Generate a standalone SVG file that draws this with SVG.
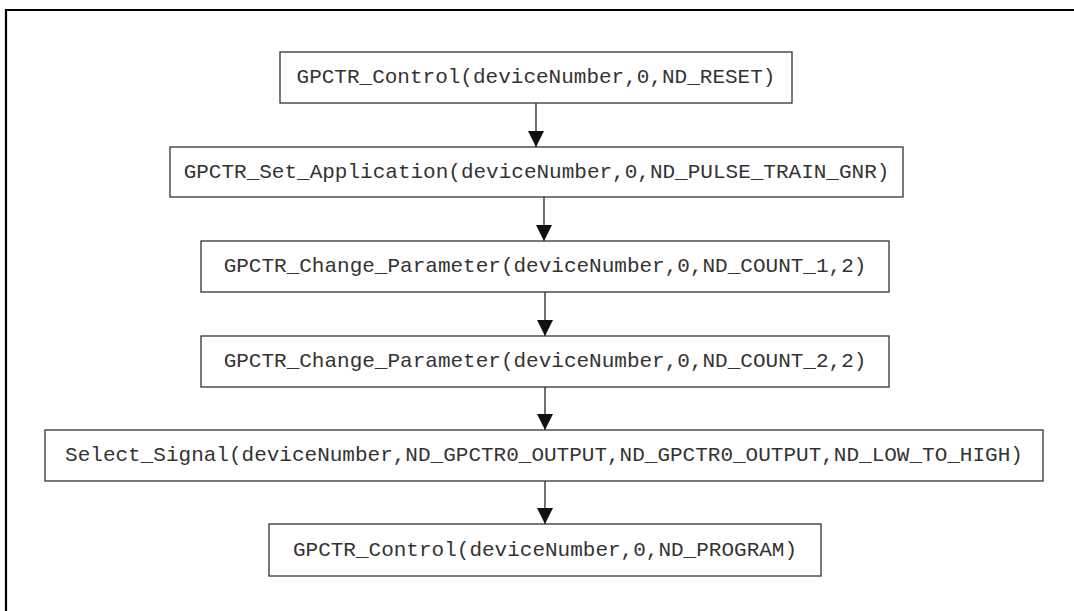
<svg xmlns="http://www.w3.org/2000/svg" width="1074" height="611" viewBox="0 0 1074 611">
<style>
.box{fill:#fff;stroke:#333;stroke-width:1.3}
.lbl{font-family:"Liberation Mono","Courier New",monospace;font-size:21px;fill:#333;text-anchor:middle;dominant-baseline:central}
.conn{stroke:#111;stroke-width:1.2;fill:none}
.frame{stroke:#000;stroke-width:2.2;fill:none}
</style>
<defs>
<marker id="arr" markerUnits="userSpaceOnUse" markerWidth="16" markerHeight="19" refX="16" refY="8" orient="auto">
<path d="M0,0 L16,8 L0,16 Z" fill="#111"/>
</marker>
</defs>
<rect width="1074" height="611" fill="#fff"/>
<path class="frame" d="M6,611 V10 H1074"/>
<g id="connectors">
<line class="conn" x1="536" y1="103" x2="536" y2="147" marker-end="url(#arr)"/>
<line class="conn" x1="544" y1="197" x2="544" y2="241" marker-end="url(#arr)"/>
<line class="conn" x1="545" y1="292" x2="545" y2="336" marker-end="url(#arr)"/>
<line class="conn" x1="545" y1="387" x2="545" y2="430" marker-end="url(#arr)"/>
<line class="conn" x1="545" y1="481" x2="545" y2="524" marker-end="url(#arr)"/>
</g>
<g id="n1"><rect class="box" x="280" y="52" width="512" height="51"/><text class="lbl" x="536" y="77">GPCTR_Control(deviceNumber,0,ND_RESET)</text></g>
<g id="n2"><rect class="box" x="170" y="147" width="733" height="50"/><text class="lbl" x="536.5" y="172">GPCTR_Set_Application(deviceNumber,0,ND_PULSE_TRAIN_GNR)</text></g>
<g id="n3"><rect class="box" x="201" y="241" width="688" height="51"/><text class="lbl" x="545" y="266">GPCTR_Change_Parameter(deviceNumber,0,ND_COUNT_1,2)</text></g>
<g id="n4"><rect class="box" x="201" y="336" width="688" height="51"/><text class="lbl" x="545" y="361">GPCTR_Change_Parameter(deviceNumber,0,ND_COUNT_2,2)</text></g>
<g id="n5"><rect class="box" x="45" y="430" width="998" height="51"/><text class="lbl" x="544" y="455">Select_Signal(deviceNumber,ND_GPCTR0_OUTPUT,ND_GPCTR0_OUTPUT,ND_LOW_TO_HIGH)</text></g>
<g id="n6"><rect class="box" x="269" y="524" width="552" height="52"/><text class="lbl" x="545" y="550">GPCTR_Control(deviceNumber,0,ND_PROGRAM)</text></g>
</svg>
